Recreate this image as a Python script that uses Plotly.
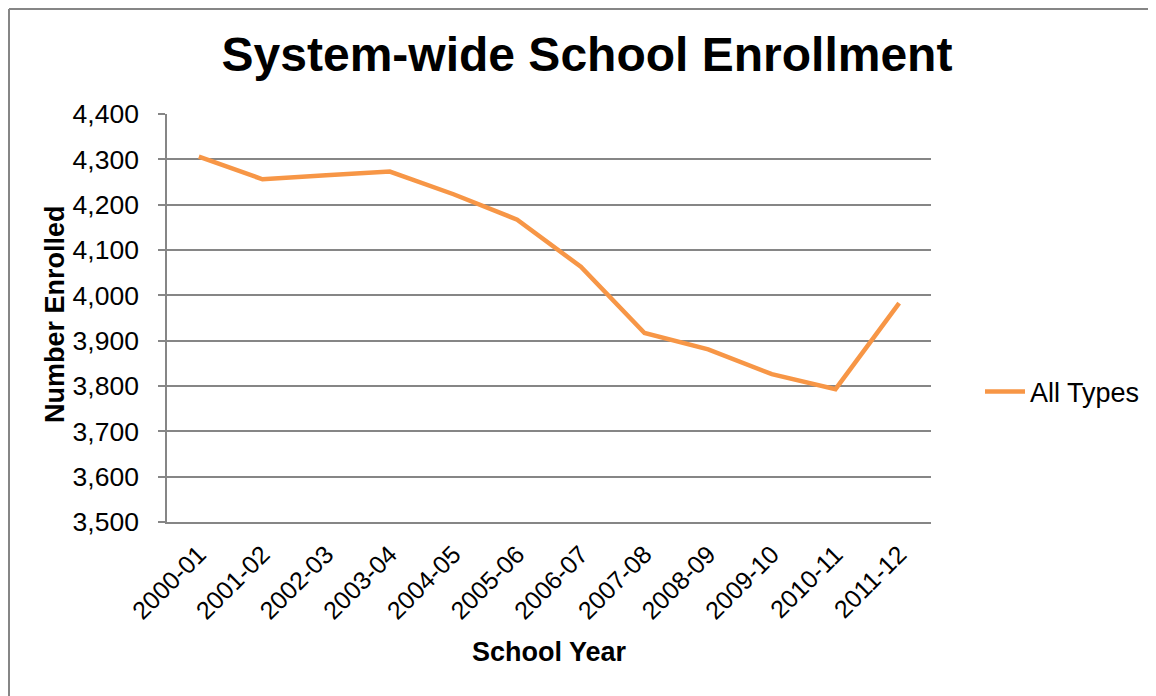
import plotly.graph_objects as go

years = ["2000-01", "2001-02", "2002-03", "2003-04", "2004-05", "2005-06",
         "2006-07", "2007-08", "2008-09", "2009-10", "2010-11", "2011-12"]
enrollment = [4306, 4256, 4265, 4273, 4223, 4167, 4063, 3917, 3881, 3826, 3793, 3983]
series_name = "All Types"
y_ticks = [3500, 3600, 3700, 3800, 3900, 4000, 4100, 4200, 4300, 4400]

OFF = 8  # page body margin
W, H = 1156 - OFF, 696 - OFF
PW, PH = 764, 408
L, T = 167 - OFF, 114 - OFF
R, B = W - L - PW, H - T - PH

def px_x(px):  # reference pixel -> paper x
    return (px - OFF - L) / PW

def px_y(py):
    return (T + PH - (py - OFF)) / PH

FONT = "Liberation Sans, Arial, sans-serif"
GRID = "#868686"

fig = go.Figure()
fig.add_trace(go.Scatter(
    x=years, y=enrollment, mode="lines", name=series_name,
    line=dict(color="#F79646", width=4.5),
))

fig.update_layout(
    width=W, height=H,
    margin=dict(l=L, r=R, t=T, b=B, autoexpand=False),
    paper_bgcolor="white", plot_bgcolor="white",
    font=dict(family=FONT, size=26, color="black"),
    title=dict(text="<b>System-wide School Enrollment</b>",
               font=dict(family=FONT, size=48, color="black"),
               xref="container", yref="container",
               x=(587 - OFF) / W, y=1 - (54 - OFF) / H,
               xanchor="center", yanchor="middle"),
    showlegend=True,
    legend=dict(x=px_x(980), y=px_y(392), xanchor="left", yanchor="middle",
                font=dict(family=FONT, size=27), bgcolor="rgba(0,0,0,0)",
                itemwidth=40),
    xaxis=dict(
        type="category", range=[-0.5, len(years) - 0.5],
        showgrid=False, showline=True, linecolor=GRID, linewidth=1.5,
        ticks="", tickangle=-45, tickfont=dict(family=FONT, size=25),
        ticklabelstandoff=6, zeroline=False,
    ),
    yaxis=dict(
        range=[3500, 4400], tickvals=y_ticks,
        ticktext=[f"{v:,}" for v in y_ticks],
        showgrid=True, gridcolor=GRID, gridwidth=1.5,
        showline=True, linecolor=GRID, linewidth=1.5,
        ticks="outside", ticklen=7, tickcolor=GRID, tickwidth=1.5,
        ticklabelstandoff=14,
        tickfont=dict(family=FONT, size=26.5), zeroline=False,
    ),
    annotations=[
        dict(text="<b>Number Enrolled</b>", textangle=-90,
             x=px_x(55), y=px_y(314), xref="paper", yref="paper",
             showarrow=False, font=dict(family=FONT, size=27),
             xanchor="center", yanchor="middle"),
        dict(text="<b>School Year</b>",
             x=px_x(549), y=px_y(652), xref="paper", yref="paper",
             showarrow=False, font=dict(family=FONT, size=27),
             xanchor="center", yanchor="middle"),
    ],
    shapes=[
        dict(type="line", xref="paper", yref="paper",
             x0=px_x(OFF + 1), x1=px_x(OFF + 1), y0=px_y(OFF + 1), y1=px_y(720),
             line=dict(color=GRID, width=2)),
        dict(type="line", xref="paper", yref="paper",
             x0=px_x(OFF + 1), x1=px_x(1180), y0=px_y(OFF + 1), y1=px_y(OFF + 1),
             line=dict(color=GRID, width=2)),
    ],
)

fig.write_html("out.html")
